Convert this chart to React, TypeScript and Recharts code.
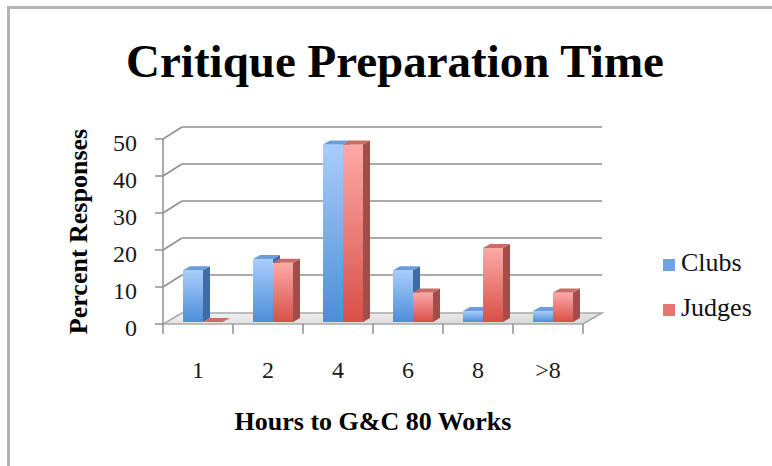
import React from "react";
import { BarChart, Bar, XAxis, YAxis, CartesianGrid, Legend } from "recharts";

const categories = ["1", "2", "4", "6", "8", ">8"];
const clubsValues = [14, 17, 48, 14, 3, 3];
const judgesValues = [0, 16, 48, 8, 20, 8];
const yTicks = [0, 10, 20, 30, 40, 50];

const data = categories.map((hours, i) => ({
  hours,
  Clubs: clubsValues[i],
  Judges: judgesValues[i],
}));

const SERIF = "'Liberation Serif', 'Times New Roman', serif";
const GRID = "#8f8f8f";

// fake 3D: back wall offset and bar depth
const WALL_DX = 19;
const WALL_DY = 12;
const BAR_DX = 7;
const BAR_DY = 4;
const BAR_SHIFT_X = 5;
const BAR_SHIFT_Y = -2;

const PLOT_BOTTOM = 324;

const legendColors: Record<string, string> = {
  Clubs: "#6fa2e6",
  Judges: "#ea7470",
};

const make3DBar = (gradId: string, side: string, top: string) => (props: any) => {
  const { x, y, width, height } = props;
  const bx = x + BAR_SHIFT_X;
  const by = y + BAR_SHIFT_Y;
  const w = width;
  const h = Math.max(height || 0, 0);
  return (
    <g>
      {h > 0 && <rect x={bx} y={by} width={w} height={h} fill={`url(#${gradId})`} />}
      {h > 0 && (
        <polygon
          points={`${bx + w},${by} ${bx + w + BAR_DX},${by - BAR_DY} ${bx + w + BAR_DX},${by + h - BAR_DY} ${bx + w},${by + h}`}
          fill={side}
        />
      )}
      <polygon
        points={`${bx},${by} ${bx + BAR_DX},${by - BAR_DY} ${bx + w + BAR_DX},${by - BAR_DY} ${bx + w},${by}`}
        fill={top}
      />
    </g>
  );
};

const clubsShape = make3DBar("clubsFront", "#3d6ca6", "#6c9dd8");
const judgesShape = make3DBar("judgesFront", "#a24d49", "#c96c67");

function GridLine(props: any) {
  const { x1, x2, y1 } = props;
  const isFloor = Math.abs(y1 - PLOT_BOTTOM) < 1;
  return (
    <g>
      {isFloor && (
        <polygon
          points={`${x1},${y1} ${x2},${y1} ${x2 + WALL_DX},${y1 - WALL_DY + 1} ${x1 + WALL_DX},${y1 - WALL_DY + 1}`}
          fill="url(#floorFill)"
          stroke="#a8a8a8"
          strokeWidth={1.5}
        />
      )}
      {!isFloor && (
        <>
          <line x1={x1} y1={y1} x2={x1 + WALL_DX} y2={y1 - WALL_DY} stroke={GRID} strokeWidth={1.5} />
          <line x1={x1 + WALL_DX} y1={y1 - WALL_DY} x2={x2 + WALL_DX} y2={y1 - WALL_DY} stroke={GRID} strokeWidth={1.5} />
        </>
      )}
    </g>
  );
}

function HourTick(props: any) {
  const { x, y, payload, index } = props;
  const half = payload?.offset ?? 0;
  return (
    <g>
      <line x1={x - half} y1={y} x2={x - half} y2={y + 10} stroke={GRID} strokeWidth={1.5} />
      {index === categories.length - 1 && (
        <line x1={x + half} y1={y} x2={x + half} y2={y + 10} stroke={GRID} strokeWidth={1.5} />
      )}
      <text x={x} y={y + 54} textAnchor="middle" fontFamily={SERIF} fontSize={24} fill="#1a1a1a">
        {payload.value}
      </text>
    </g>
  );
}

function renderLegend(props: any) {
  const items = props.payload || [];
  return (
    <div style={{ fontFamily: SERIF, fontSize: 26, color: "#111" }}>
      {items.map((item: any) => (
        <div key={item.value} style={{ display: "flex", alignItems: "center", height: 45 }}>
          <span
            style={{
              display: "inline-block",
              width: 12,
              height: 12,
              marginRight: 6,
              marginTop: 4,
              background: legendColors[item.dataKey] || item.color,
            }}
          />
          <span>{item.value}</span>
        </div>
      ))}
    </div>
  );
}

export default function App() {
  return (
    <div style={{ position: "absolute", left: 0, top: 0, width: 772, height: 466, background: "#fff", overflow: "hidden" }}>
      <div
        style={{
          position: "absolute",
          left: 7,
          top: 6,
          width: 765,
          height: 460,
          boxSizing: "border-box",
          borderTop: "3px solid #b3b3b3",
          borderLeft: "3px solid #b3b3b3",
        }}
      />
      <div
        style={{
          position: "absolute",
          left: 0,
          top: 38,
          width: 772,
          paddingLeft: 18,
          boxSizing: "border-box",
          textAlign: "center",
          fontFamily: SERIF,
          fontWeight: "bold",
          fontSize: 47,
          lineHeight: "47px",
          color: "#000",
        }}
      >
        Critique Preparation Time
      </div>
      <div style={{ position: "absolute", left: 0, top: 0 }}>
        <BarChart
          width={772}
          height={466}
          data={data}
          margin={{ top: 139, right: 189, bottom: 35, left: 53 }}
          barCategoryGap={15}
          barGap={0}
        >
          <defs>
            <linearGradient id="clubsFront" x1="0" y1="0" x2="0" y2="1">
              <stop offset="0%" stopColor="#a9cdfc" />
              <stop offset="100%" stopColor="#4c8ed9" />
            </linearGradient>
            <linearGradient id="judgesFront" x1="0" y1="0" x2="0" y2="1">
              <stop offset="0%" stopColor="#fcaaa7" />
              <stop offset="100%" stopColor="#d85048" />
            </linearGradient>
            <linearGradient id="floorFill" x1="0" y1="0" x2="1" y2="1">
              <stop offset="0%" stopColor="#f2f2f2" />
              <stop offset="100%" stopColor="#d6d6d6" />
            </linearGradient>
          </defs>
          <CartesianGrid vertical={false} horizontal={(p: any) => <GridLine {...p} />} />
          <XAxis
            dataKey="hours"
            height={107}
            axisLine={false}
            tickLine={false}
            tickSize={0}
            tickMargin={0}
            interval={0}
            tick={<HourTick />}
            label={{
              content: (p: any) => {
                const vb = p.viewBox;
                return (
                  <text
                    x={vb.x + vb.width / 2}
                    y={vb.y + 106}
                    textAnchor="middle"
                    fontFamily={SERIF}
                    fontWeight="bold"
                    fontSize={26}
                    fill="#000"
                  >
                    Hours to G&amp;C 80 Works
                  </text>
                );
              },
            }}
          />
          <YAxis
            width={110}
            domain={[0, 50]}
            ticks={yTicks}
            interval={0}
            axisLine={{ stroke: GRID, strokeWidth: 1.5 }}
            tickLine={{ stroke: GRID, strokeWidth: 1.5 }}
            tickSize={8}
            tickMargin={18}
            tick={{ fontFamily: SERIF, fontSize: 24, fill: "#1a1a1a", dy: 3 }}
            label={{
              content: (p: any) => {
                const vb = p.viewBox;
                const cx = vb.x + 25;
                const cy = vb.y + vb.height / 2;
                return (
                  <text
                    x={cx}
                    y={cy}
                    transform={`rotate(-90 ${cx} ${cy})`}
                    textAnchor="middle"
                    dominantBaseline="central"
                    fontFamily={SERIF}
                    fontWeight="bold"
                    fontSize={26}
                    fill="#000"
                  >
                    Percent Responses
                  </text>
                );
              },
            }}
          />
          <Legend
            layout="vertical"
            align="center"
            verticalAlign="middle"
            wrapperStyle={{ left: 663, top: 240 }}
            content={renderLegend}
          />
          <Bar dataKey="Clubs" fill="#6fa2e6" shape={clubsShape} isAnimationActive={false} />
          <Bar dataKey="Judges" fill="#ea7470" shape={judgesShape} isAnimationActive={false} />
        </BarChart>
      </div>
    </div>
  );
}
